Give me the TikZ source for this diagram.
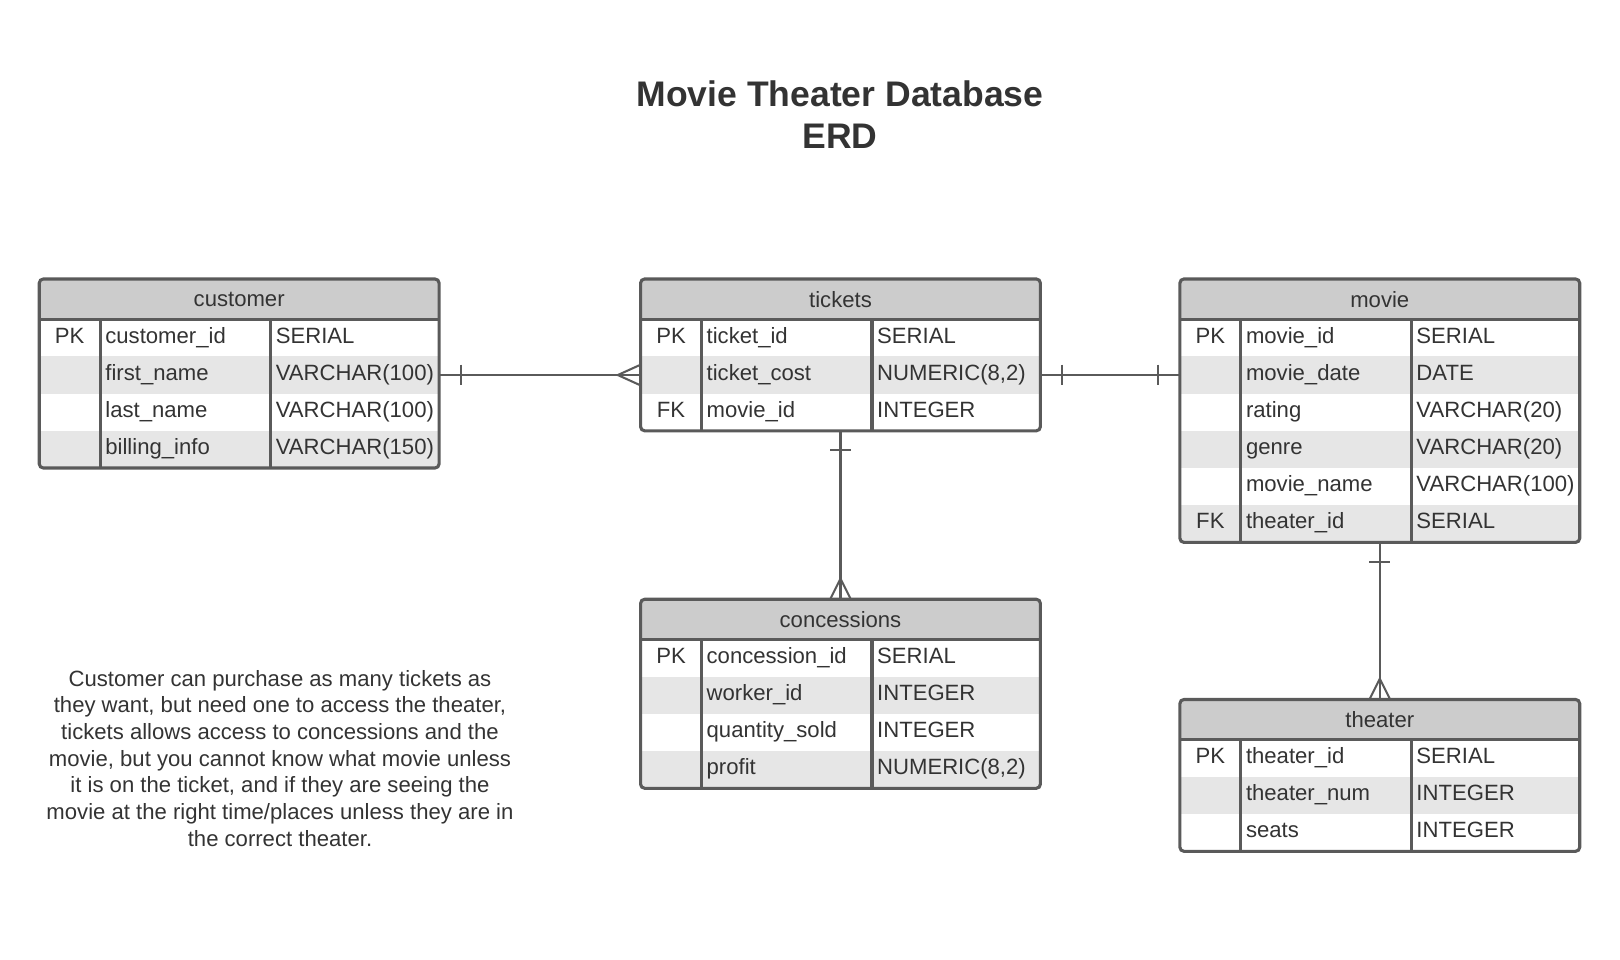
\documentclass[tikz,border=0pt]{standalone}
\usepackage{fontspec}
\setmainfont{Liberation Sans}
\usetikzlibrary{positioning,calc}
\definecolor{ink}{HTML}{333333}
\definecolor{edge}{HTML}{5A5A5A}
\definecolor{headgray}{HTML}{CCCCCC}
\definecolor{rowgray}{HTML}{E6E6E6}
% name, x, y, title, number of rows, rows
\newcommand{\erdtable}[6]{%
	\node[tablehead] (#1-head) at (#2,#3) {#4};
	\foreach \k/\f/\t [count=\i] in {#6} {
		\ifodd\i \def\rowfill{white}\else \def\rowfill{rowgray}\fi
		\node[keycell,fill=\rowfill] (#1-\i-key) at (#2,{#3+3+36*\i}) {\k};
		\node[namecell,fill=\rowfill,right=0pt of #1-\i-key] (#1-\i-name) {\f};
		\node[typecell,fill=\rowfill,right=0pt of #1-\i-name] (#1-\i-type) {\t};
	}
	\draw[rule] (#1-head.south west) -- (#1-head.south east);
	\draw[rule] (#1-1-key.north east) -- (#1-#5-key.south east);
	\draw[rule] (#1-1-name.north east) -- (#1-#5-name.south east);
	\node[tableframe,minimum height={39+36*#5}] (#1) at (#2,#3) {};
}
\begin{document}
\begin{tikzpicture}[x=1pt,y=-1pt,
	every node/.style={text=ink,inner sep=0pt,outer sep=0pt,font=\fontsize{21.4}{25.8}\selectfont},
	tablehead/.style={anchor=north west,fill=headgray,rounded corners=3pt,
		minimum width=387pt,minimum height=39pt},
	keycell/.style={anchor=north west,minimum width=59pt,minimum height=36pt,
		text height=15pt,text depth=5pt},
	namecell/.style={minimum height=36pt,text width=155pt,inner xsep=5pt,align=left,
		text height=15pt,text depth=5pt},
	typecell/.style={minimum height=36pt,text width=153pt,inner xsep=5pt,align=left,
		text height=15pt,text depth=5pt},
	tableframe/.style={anchor=north west,draw=edge,line width=3pt,rounded corners=4pt,
		minimum width=387pt},
	rule/.style={draw=edge,line width=3pt},
	rel/.style={draw=edge,line width=2pt}]
\useasboundingbox (0,0) rectangle (1568,929);

\node[font=\bfseries\fontsize{34.4}{41}\selectfont,align=center] (title) at (813,111)
	{Movie Theater Database\\ERD};

\erdtable{customer}{38}{270}{customer}{4}{PK/customer\_id/SERIAL,
	/first\_name/VARCHAR(100), /last\_name/VARCHAR(100), /billing\_info/VARCHAR(150)}
\erdtable{tickets}{620}{270}{tickets}{3}{PK/ticket\_id/SERIAL,
	/ticket\_cost/{NUMERIC(8,2)}, FK/movie\_id/INTEGER}
\erdtable{movie}{1142}{270}{movie}{6}{PK/movie\_id/SERIAL, /movie\_date/DATE,
	/rating/VARCHAR(20), /genre/VARCHAR(20), /movie\_name/VARCHAR(100), FK/theater\_id/SERIAL}
\erdtable{concessions}{620}{580}{concessions}{4}{PK/concession\_id/SERIAL,
	/worker\_id/INTEGER, /quantity\_sold/INTEGER, /profit/{NUMERIC(8,2)}}
\erdtable{theater}{1142}{677}{theater}{3}{PK/theater\_id/SERIAL,
	/theater\_num/INTEGER, /seats/INTEGER}

% customer - tickets
\draw[rel] (customer-2-type.east) -- (tickets-2-key.west);
\draw[rel] ($(customer-2-type.east)+(21,-10)$) -- ++(0,20);
\draw[rel] ($(tickets-2-key.west)+(0,-10)$) -- ++(-22,10) -- ++(22,10);
% tickets - movie
\draw[rel] (tickets-2-type.east) -- (movie-2-key.west);
\draw[rel] ($(tickets-2-type.east)+(21,-10)$) -- ++(0,20);
\draw[rel] ($(movie-2-key.west)+(-21,-10)$) -- ++(0,20);
% tickets - concessions
\draw[rel] (tickets.south) -- (concessions.north);
\draw[rel] ($(tickets.south)+(-10,19)$) -- ++(20,0);
\draw[rel] ($(concessions.north)+(-10,0)$) -- ++(10,-20) -- ++(10,20);
% movie - theater
\draw[rel] (movie.south) -- (theater.north);
\draw[rel] ($(movie.south)+(-10,19)$) -- ++(20,0);
\draw[rel] ($(theater.north)+(-10,0)$) -- ++(10,-20) -- ++(10,20);

\node[align=center] (note) at (271,734) {Customer can purchase as many tickets as\\
	they want, but need one to access the theater,\\
	tickets allows access to concessions and the\\
	movie, but you cannot know what movie unless\\
	it is on the ticket, and if they are seeing the\\
	movie at the right time/places unless they are in\\
	the correct theater.};
\end{tikzpicture}
\end{document}
